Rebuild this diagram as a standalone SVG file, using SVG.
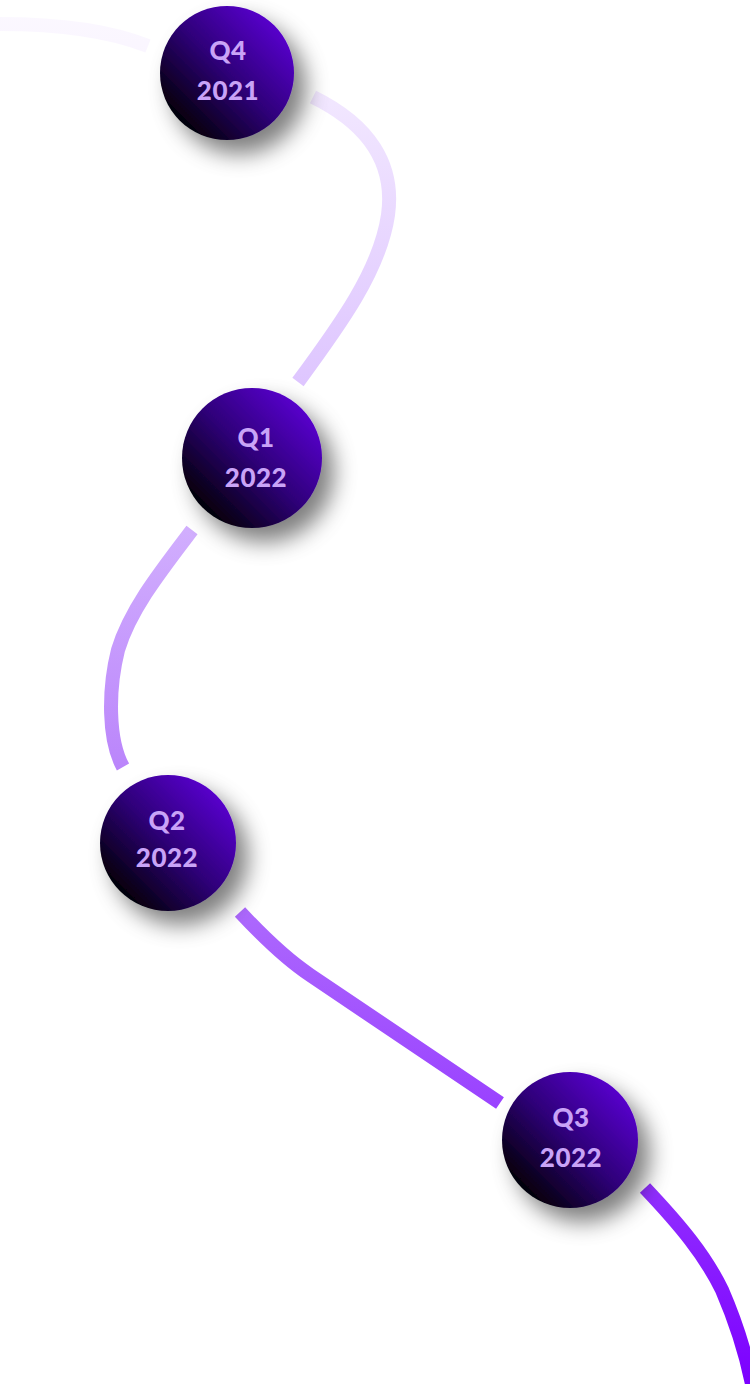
<svg xmlns="http://www.w3.org/2000/svg" width="750" height="1384" viewBox="0 0 750 1384">
<defs>
<linearGradient id="lineGrad" gradientUnits="userSpaceOnUse" x1="0" y1="0" x2="0" y2="1384">
<stop offset="0" stop-color="#f8f2ff"/>
<stop offset="0.3" stop-color="#dcc2ff"/>
<stop offset="0.55" stop-color="#bb86fb"/>
<stop offset="0.8" stop-color="#9a42ff"/>
<stop offset="1" stop-color="#7c00ff"/>
</linearGradient>
<linearGradient id="ballGrad" x1="0" y1="1" x2="1" y2="0">
<stop offset="0.12" stop-color="#000000"/>
<stop offset="0.5" stop-color="#2e0278"/>
<stop offset="0.9" stop-color="#5c00d6"/>
</linearGradient>
<filter id="shadow" x="-50%" y="-50%" width="210%" height="210%">
<feGaussianBlur in="SourceAlpha" stdDeviation="11"/>
<feOffset dx="12" dy="14" result="b"/>
<feFlood flood-color="#000" flood-opacity="0.5"/>
<feComposite in2="b" operator="in"/>
<feMerge><feMergeNode/><feMergeNode in="SourceGraphic"/></feMerge>
</filter>
</defs>
<style>
.seg{fill:none;stroke:url(#lineGrad);stroke-width:14;stroke-linecap:butt}
.ball{fill:url(#ballGrad);filter:url(#shadow)}
.lbl{font-family:Lato,"Noto Sans",sans-serif;font-weight:900;font-size:26px;letter-spacing:0.5px;fill:#c9a3f7;text-anchor:middle}
</style>
<g id="connectors">
<path class="seg" d="M0,24 C60,24 110,31 148,46" stroke-opacity="0.5" stroke-width="11"/>
<path class="seg" d="M313,97 C370,125 395,165 388,215 C380,270 340,325 298,382"/>
<path class="seg" d="M192,530 C160,572 130,610 118,650 C108,690 108,740 123,767"/>
<path class="seg" d="M240,912 Q280,955 310,975 L500,1103"/>
<path class="seg" d="M645,1188 C680,1225 705,1255 722,1290 C735,1320 745,1350 752,1384"/>
</g>
<g id="node-q4-2021">
<circle class="ball" cx="227" cy="73" r="67"/>
<text class="lbl" x="228" y="60">Q4</text>
<text class="lbl" x="228" y="100">2021</text>
</g>
<g id="node-q1-2022">
<circle class="ball" cx="252" cy="458" r="70"/>
<text class="lbl" x="256" y="447">Q1</text>
<text class="lbl" x="256" y="487">2022</text>
</g>
<g id="node-q2-2022">
<circle class="ball" cx="168" cy="843" r="68"/>
<text class="lbl" x="167" y="830">Q2</text>
<text class="lbl" x="167" y="867">2022</text>
</g>
<g id="node-q3-2022">
<circle class="ball" cx="570" cy="1140" r="68"/>
<text class="lbl" x="571" y="1127">Q3</text>
<text class="lbl" x="571" y="1167">2022</text>
</g>
</svg>
